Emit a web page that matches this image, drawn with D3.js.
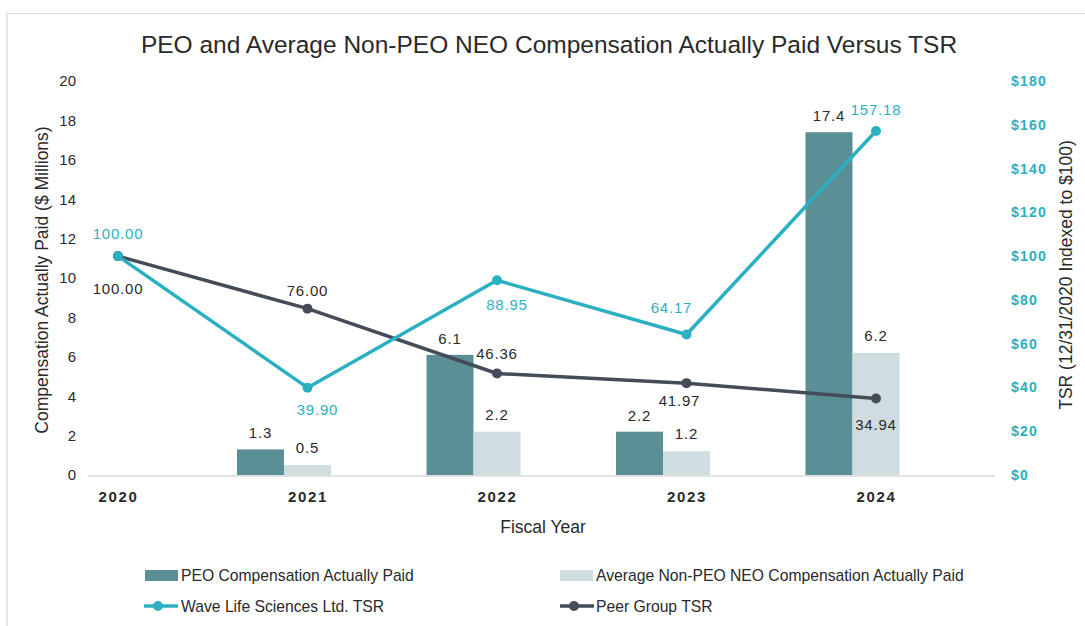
<!DOCTYPE html>
<html>
<head>
<meta charset="utf-8">
<script src="https://cdn.jsdelivr.net/npm/d3@7"></script>
<style>
  html, body { margin: 0; padding: 0; background: #fff; }
  svg { display: block; font-family: "Liberation Sans", Arial, sans-serif; }
</style>
</head>
<body>
<svg id="chart" width="1085" height="626"></svg>
<script>
// ---- data ----
const years = ["2020", "2021", "2022", "2023", "2024"];
const peoCap = [null, 1.3, 6.1, 2.2, 17.4];
const neoCap = [null, 0.5, 2.2, 1.2, 6.2];
const waveTsr = [100.00, 39.90, 88.95, 64.17, 157.18];
const peerTsr = [100.00, 76.00, 46.36, 41.97, 34.94];
const leftTicks = [0, 2, 4, 6, 8, 10, 12, 14, 16, 18, 20];
const rightTicks = [0, 20, 40, 60, 80, 100, 120, 140, 160, 180];

// label placement (dx, dy) relative to point
const waveLabelPos = [[0, -22], [10, 22], [10, 24], [-15, -27], [0, -21]];
const peerLabelPos = [[0, 33], [0, -18], [0, -20], [-7, 18], [0, 26]];

const C = {
  peo: "#5A8F96",
  neo: "#CFDCE0",
  wave: "#2BB0C2",
  peer: "#444C59",
  text: "#2a2a2a",
  axisTeal: "#2BAFC0"
};

const svg = d3.select("#chart");

// frame
svg.append("path")
  .attr("d", "M7,626 L7,13.5 L1085,13.5")
  .attr("fill", "none").attr("stroke", "#D6E1E6").attr("stroke-width", 1.5);

const plotTop = 81, plotBottom = 475;
const x = d3.scalePoint().domain(years).range([118, 876]);
const yL = d3.scaleLinear().domain([0, 20]).range([plotBottom, plotTop]);
const yR = d3.scaleLinear().domain([0, 180]).range([plotBottom, plotTop]);
const barW = 47;

// title
svg.append("text").attr("x", 549).attr("y", 53).attr("text-anchor", "middle")
  .attr("font-size", 24.5).attr("fill", C.text)
  .text("PEO and Average Non-PEO NEO Compensation Actually Paid Versus TSR");

// left axis
const gL = svg.append("g").attr("transform", "translate(76,0)")
  .call(d3.axisLeft(yL).tickValues(leftTicks).tickSize(0).tickPadding(0));
gL.select(".domain").remove();
gL.selectAll("text").attr("font-size", 15).attr("fill", C.text)
  .attr("font-family", "Liberation Sans, Arial, sans-serif");

// right axis
const gR = svg.append("g").attr("transform", "translate(1011,0)")
  .call(d3.axisRight(yR).tickValues(rightTicks).tickSize(0).tickPadding(0)
    .tickFormat(d => "$" + d));
gR.select(".domain").remove();
gR.selectAll("text").attr("font-size", 14).attr("font-weight", "bold")
  .attr("fill", C.axisTeal).attr("letter-spacing", 1.2)
  .attr("font-family", "Liberation Sans, Arial, sans-serif");

// baseline
svg.append("line").attr("x1", 88).attr("x2", 995).attr("y1", plotBottom + 1).attr("y2", plotBottom + 1)
  .attr("stroke", "#E2E2E2").attr("stroke-width", 2);

// x axis labels
const gX = svg.append("g").attr("transform", `translate(0,${plotBottom})`)
  .call(d3.axisBottom(x).tickSize(0).tickPadding(16));
gX.select(".domain").remove();
gX.selectAll("text").attr("font-size", 15).attr("font-weight", "bold")
  .attr("fill", C.text).attr("letter-spacing", 1.6)
  .attr("font-family", "Liberation Sans, Arial, sans-serif");

// axis titles
svg.append("text").attr("x", 543).attr("y", 533).attr("text-anchor", "middle")
  .attr("font-size", 17.5).attr("fill", C.text).text("Fiscal Year");
svg.append("text").attr("transform", "translate(48,280) rotate(-90)")
  .attr("text-anchor", "middle").attr("font-size", 17.5).attr("fill", C.text)
  .text("Compensation Actually Paid ($ Millions)");
svg.append("text").attr("transform", "translate(1072,275) rotate(-90)")
  .attr("text-anchor", "middle").attr("font-size", 17.5).attr("fill", C.text)
  .text("TSR (12/31/2020 Indexed to $100)");

// bars
const peoData = years.map((y, i) => ({ y, v: peoCap[i] })).filter(d => d.v != null);
const neoData = years.map((y, i) => ({ y, v: neoCap[i] })).filter(d => d.v != null);

svg.append("g").selectAll("rect").data(peoData).join("rect")
  .attr("x", d => x(d.y) - 1.5 * barW).attr("width", barW)
  .attr("y", d => yL(d.v)).attr("height", d => plotBottom - yL(d.v))
  .attr("fill", C.peo);
svg.append("g").selectAll("rect").data(neoData).join("rect")
  .attr("x", d => x(d.y) - 0.5 * barW).attr("width", barW)
  .attr("y", d => yL(d.v)).attr("height", d => plotBottom - yL(d.v))
  .attr("fill", C.neo);

svg.append("g").selectAll("text").data(peoData).join("text")
  .attr("x", d => x(d.y) - barW).attr("y", d => yL(d.v) - 11)
  .attr("text-anchor", "middle").attr("font-size", 15).attr("fill", C.text)
  .attr("letter-spacing", 0.8)
  .text(d => d3.format(".1f")(d.v));
svg.append("g").selectAll("text").data(neoData).join("text")
  .attr("x", d => x(d.y)).attr("y", d => yL(d.v) - 12)
  .attr("text-anchor", "middle").attr("font-size", 15).attr("fill", C.text)
  .attr("letter-spacing", 0.8)
  .text(d => d3.format(".1f")(d.v));

// lines
function drawLine(vals, color, pos) {
  const data = years.map((y, i) => ({ y, v: vals[i], p: pos[i] }));
  const line = d3.line().x(d => x(d.y)).y(d => yR(d.v));
  svg.append("path").datum(data).attr("d", line)
    .attr("fill", "none").attr("stroke", color).attr("stroke-width", 3.5)
    .attr("stroke-linejoin", "round");
  svg.append("g").selectAll("circle").data(data).join("circle")
    .attr("cx", d => x(d.y)).attr("cy", d => yR(d.v)).attr("r", 5)
    .attr("fill", color);
  return data;
}
const peerD = drawLine(peerTsr, C.peer, peerLabelPos);
const waveD = drawLine(waveTsr, C.wave, waveLabelPos);

function labels(data, color) {
  svg.append("g").selectAll("text").data(data).join("text")
    .attr("x", d => x(d.y) + d.p[0]).attr("y", d => yR(d.v) + d.p[1])
    .attr("dy", "0.35em")
    .attr("text-anchor", "middle").attr("font-size", 15).attr("fill", color)
    .attr("letter-spacing", 0.8)
    .text(d => d3.format(".2f")(d.v));
}
labels(peerD, C.text);
labels(waveD, C.wave);

// legend
const lg = svg.append("g").attr("font-size", 15.7).attr("fill", C.text);
lg.append("rect").attr("x", 145).attr("y", 570).attr("width", 33).attr("height", 11).attr("fill", C.peo);
lg.append("text").attr("x", 181).attr("y", 581).text("PEO Compensation Actually Paid");
lg.append("rect").attr("x", 560).attr("y", 570).attr("width", 33).attr("height", 11).attr("fill", C.neo);
lg.append("text").attr("x", 596).attr("y", 581).text("Average Non-PEO NEO Compensation Actually Paid");

lg.append("line").attr("x1", 144).attr("x2", 178).attr("y1", 606).attr("y2", 606)
  .attr("stroke", C.wave).attr("stroke-width", 3.5);
lg.append("circle").attr("cx", 158).attr("cy", 606).attr("r", 5).attr("fill", C.wave);
lg.append("text").attr("x", 181).attr("y", 612).text("Wave Life Sciences Ltd. TSR");
lg.append("line").attr("x1", 560).attr("x2", 594).attr("y1", 606).attr("y2", 606)
  .attr("stroke", C.peer).attr("stroke-width", 3.5);
lg.append("circle").attr("cx", 574).attr("cy", 606).attr("r", 5).attr("fill", C.peer);
lg.append("text").attr("x", 596).attr("y", 612).text("Peer Group TSR");
</script>
</body>
</html>
